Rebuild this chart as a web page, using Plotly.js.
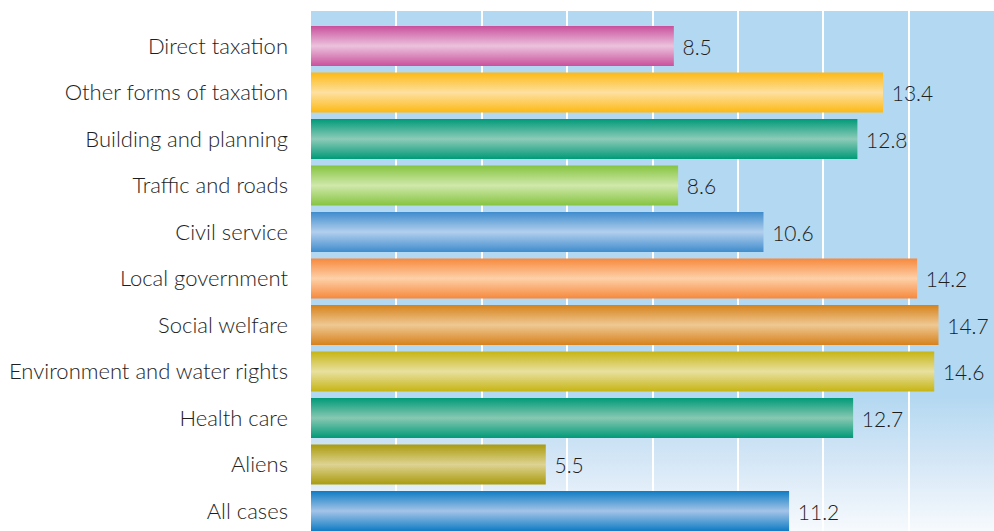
<!DOCTYPE html>
<html>
<head>
<meta charset="utf-8">
<script src="https://cdn.plot.ly/plotly-3.0.1.min.js"></script>
<style>
  html, body { margin: 0; padding: 0; background: #ffffff; }
  #wrap { position: relative; width: 994px; height: 531px; overflow: hidden; }
  #bg { position: absolute; left: 311px; top: 11px; width: 683px; height: 520px;
        background: linear-gradient(to bottom, #b3d8f1 0%, #b3d8f1 74%, #d3e6f6 86%, #f7fafd 100%); }
  #chart { position: absolute; left: 0; top: 0; width: 994px; height: 531px; }
</style>
</head>
<body>
<div id="wrap">
  <div id="bg"></div>
  <div id="chart"></div>
</div>
<script>
// ---- data ----
const categories = [
  "Direct taxation",
  "Other forms of taxation",
  "Building and planning",
  "Traffic and roads",
  "Civil service",
  "Local government",
  "Social welfare",
  "Environment and water rights",
  "Health care",
  "Aliens",
  "All cases"
];
const values = [8.5, 13.4, 12.8, 8.6, 10.6, 14.2, 14.7, 14.6, 12.7, 5.5, 11.2];

// ---- styles ----
const edgeColors = ["#c9509c", "#fdb913", "#009a78", "#86c440", "#3f8ccd", "#f7893c",
                    "#d6821c", "#c6b513", "#009a78", "#a99b0e", "#0f7cc4"];
const midColors  = ["#ecc2dd", "#fee0a0", "#8dcbb8", "#cfe8ab", "#b2cfed", "#fdd0a8",
                    "#efc893", "#e8e0a0", "#88c8b2", "#ded392", "#a4c4e8"];

const trace = {
  type: "bar",
  orientation: "h",
  y: categories,
  x: values,
  width: 0.86,
  marker: { color: edgeColors, line: { width: 0 } },
  text: values.map(v => "\u00a0" + v.toFixed(1)),
  textposition: "outside",
  textfont: { family: "Lato, 'Open Sans', sans-serif", size: 21, color: "#1e1e1e", weight: 300 },
  cliponaxis: false,
  hoverinfo: "none"
};

const layout = {
  width: 994,
  height: 531,
  margin: { l: 311, r: 0, t: 11, b: 0 },
  paper_bgcolor: "rgba(0,0,0,0)",
  plot_bgcolor: "rgba(0,0,0,0)",
  showlegend: false,
  xaxis: {
    range: [0, 16],
    dtick: 2,
    showgrid: true,
    gridcolor: "#ffffff",
    gridwidth: 2,
    zeroline: false,
    showticklabels: false,
    showline: false,
    fixedrange: true
  },
  yaxis: {
    type: "category",
    range: [10.43, -0.753],
    showgrid: false,
    zeroline: false,
    showline: false,
    ticks: "",
    ticklabelstandoff: 22,
    tickfont: { family: "Lato, 'Open Sans', sans-serif", size: 22, color: "#1e1e1e", weight: 300 },
    fixedrange: true
  },
  font: { family: "Lato, 'Open Sans', sans-serif" }
};

Plotly.newPlot("chart", [trace], layout, { staticPlot: true, displayModeBar: false }).then(function (gd) {
  const svgNS = "http://www.w3.org/2000/svg";
  const svg = gd.querySelector("svg.main-svg");
  let defs = svg.querySelector("defs");
  if (!defs) { defs = document.createElementNS(svgNS, "defs"); svg.insertBefore(defs, svg.firstChild); }
  edgeColors.forEach(function (c, i) {
    const g = document.createElementNS(svgNS, "linearGradient");
    g.setAttribute("id", "barGrad" + i);
    g.setAttribute("x1", "0"); g.setAttribute("y1", "0");
    g.setAttribute("x2", "0"); g.setAttribute("y2", "1");
    [[0, c], [0.5, midColors[i]], [1, c]].forEach(function (s) {
      const st = document.createElementNS(svgNS, "stop");
      st.setAttribute("offset", s[0]);
      st.setAttribute("stop-color", s[1]);
      g.appendChild(st);
    });
    defs.appendChild(g);
  });
  const paths = gd.querySelectorAll(".barlayer .point path");
  paths.forEach(function (p, i) {
    p.style.fill = "url(#barGrad" + i + ")";
    p.style.fillOpacity = 1;
  });
});
</script>
</body>
</html>
